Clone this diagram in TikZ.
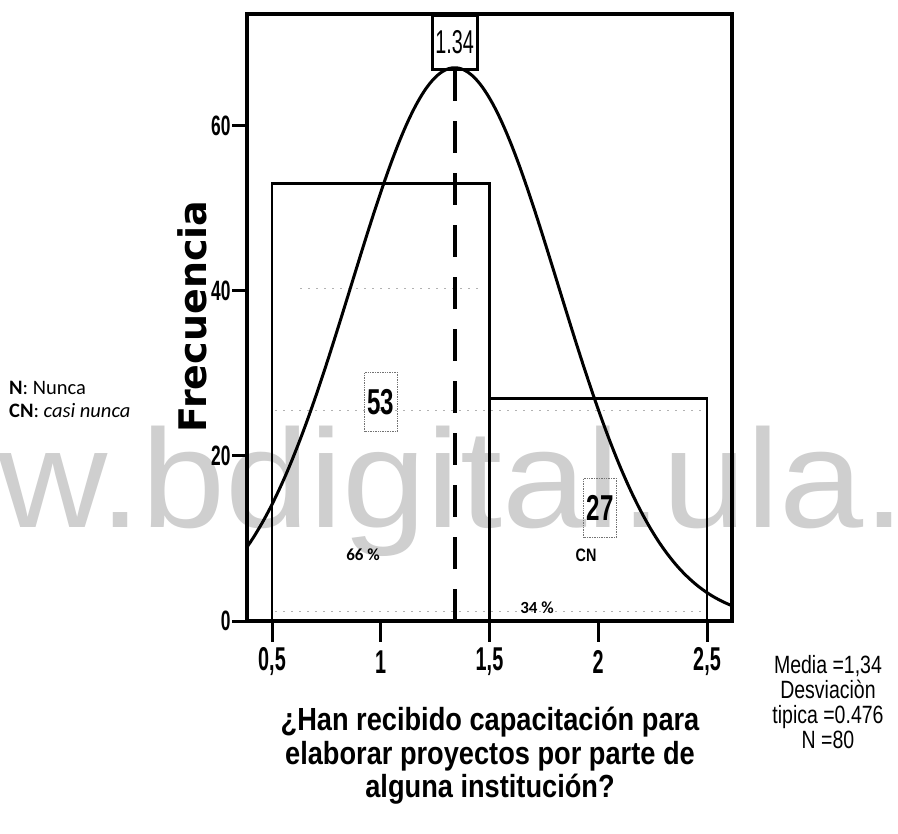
\documentclass[tikz,border=0pt]{standalone}
\usepackage{fontspec}
\usepackage{graphicx}
\setmainfont{Liberation Sans}
\newfontfamily\djv{DejaVu Sans}
\newfontfamily\carl{Carlito}
\newcommand{\nar}[2]{\scalebox{#1}[1]{#2}}
\newcommand{\fsz}[1]{\fontsize{#1}{#1}\selectfont}
\tikzset{
  plotframe/.style={line width=3.2pt},
  barbox/.style={line width=2.6pt},
  normcurve/.style={line width=3pt},
  axtick/.style={line width=3pt},
  meanline/.style={line width=4pt, dash pattern=on 32pt off 20pt},
  gridfaint/.style={line width=0.8pt, black!30, dash pattern=on 2pt off 6pt},
  ylabelnum/.style={anchor=east, inner sep=0pt, font=\bfseries\fsz{28}},
  xlabelnum/.style={anchor=center, inner sep=0pt, font=\bfseries\fsz{33}},
  countbox/.style={draw=black!55, densely dotted, line width=0.7pt, minimum width=33pt, minimum height=59pt, inner sep=0pt, font=\bfseries\fsz{36}},
  pct/.style={inner sep=0pt, font=\carl\bfseries\fsz{17}},
}
\begin{document}
\begin{tikzpicture}[x=1pt,y=-1pt]
\useasboundingbox (0,0) rectangle (898,834);
\fill[white] (0,0) rectangle (898,834);
% watermark
\node[anchor=base west, inner sep=0pt, xscale=1.08, text=black!19, font=\fsz{140}] (wm) at (-2,528) {w.bdigital.ula.};
% faint scan lines
\draw[gridfaint] (300,288) -- (480,288);
\draw[gridfaint] (275,410) -- (705,410);
\draw[gridfaint] (275,611) -- (705,611);
\begin{scope}[shift={(163.25,621)}, x=217.5pt, y=8.25pt]
  \draw[plotframe] (0.385,0) rectangle (2.615,73.58);
  \draw[barbox] (0.5,0) rectangle (1.5,53);
  \draw[barbox] (1.5,0) rectangle (2.5,27);
  \draw[normcurve] plot[domain=0.385:2.615, samples=150, smooth]
    (\x, {67.05*exp(-((\x-1.34)^2)/(2*0.476*0.476))});
  \foreach \v in {0,20,40,60} {
    \draw[axtick] (0.385,\v) -- ++(-15pt,0) node[ylabelnum] (yt\v) {\nar{0.62}{\v}};
  }
  \foreach \v/\l in {0.5/{0,5},1/{1},1.5/{1,5},2/{2},2.5/{2,5}} {
    \draw[axtick] (\v,0) -- ++(0,-21pt);
    \node[xlabelnum] (xt\v) at (\v,-4.97) {\nar{0.6}{\l}};
  }
  \coordinate (mb) at (1.34,0);
  \node[draw, line width=2.6pt, minimum width=45pt, minimum height=54pt, inner sep=0pt, anchor=north, font=\fsz{33}] (mean) at (1.34,73.58) {\nar{0.6}{1.34}};
  \draw[meanline] (mb) -- (mean.south);
\end{scope}
% counts and labels
\node[countbox] (c53) at (381,402) {\nar{0.67}{53}};
\node[countbox] (c27) at (600,508) {\nar{0.67}{27}};
\node[inner sep=0pt, font=\bfseries\fsz{18}] (cn) at (586,555) {\nar{0.8}{CN}};
\node[pct] (p66) at (363,555) {66 \%};
\node[pct] (p34) at (537,608) {34 \%};
% axis label
\node[rotate=90, anchor=base, inner sep=0pt, font=\djv\bfseries\fsz{38}] (ylab) at (206,316.5) {Frecuencia};
% legend
\node[anchor=base west, inner sep=0pt, font=\carl\fsz{20.5}] (ln) at (9,395) {\textbf{N}: Nunca};
\node[anchor=base west, inner sep=0pt, font=\carl\fsz{20.5}] (lcn) at (9,418) {\textbf{CN}: \textit{casi nunca}};
% title
\node[align=center, xscale=0.85, inner sep=0pt, font=\bfseries\fontsize{32}{33.5}\selectfont] (title) at (490,756)
  {¿Han recibido capacitación para\\elaborar proyectos por parte de\\alguna institución?};
% stats
\node[align=center, xscale=0.78, inner sep=0pt, font=\fontsize{25}{25}\selectfont] (stats) at (828,702)
  {Media =1,34\\Desviaciòn\\tipica =0.476\\N =80};
\end{tikzpicture}
\end{document}
